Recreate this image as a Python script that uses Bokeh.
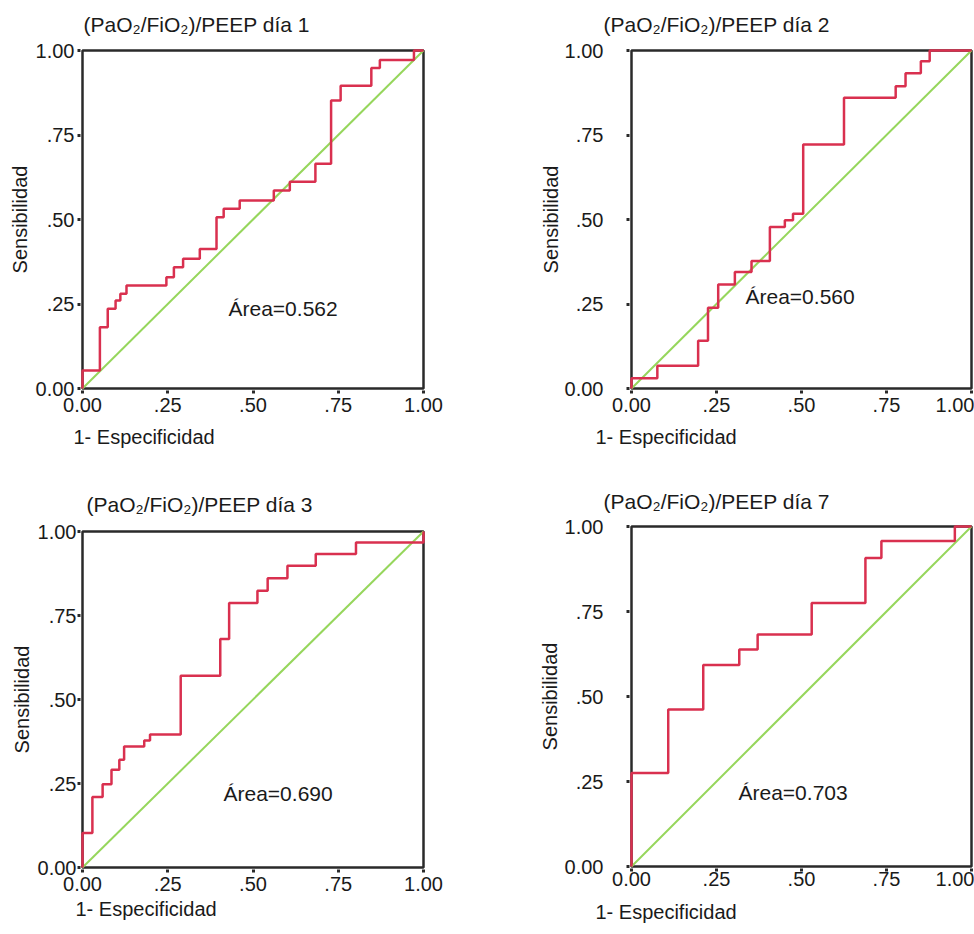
from bokeh.plotting import figure
from bokeh.layouts import column, row
from bokeh.models import Range1d, FixedTicker, Title
from bokeh.embed import file_html
from bokeh.resources import INLINE

# ---------------- data ----------------
tick_values = [0.0, 0.25, 0.5, 0.75, 1.0]
tick_labels = ["0.00", ".25", ".50", ".75", "1.00"]

titles = ["(PaO\u2082/FiO\u2082)/PEEP día 1", "(PaO\u2082/FiO\u2082)/PEEP día 2",
          "(PaO\u2082/FiO\u2082)/PEEP día 3", "(PaO\u2082/FiO\u2082)/PEEP día 7"]
areas = ["Área=0.562", "Área=0.560", "Área=0.690", "Área=0.703"]
y_label = "Sensibilidad"
x_label = "1- Especificidad"

# ROC step points (1 - specificity, sensitivity)
fpr_d1 = [0.0, 0.0, 0.051, 0.074, 0.097, 0.111, 0.129, 0.246, 0.268, 0.295, 0.344, 0.393,
          0.414, 0.461, 0.561, 0.608, 0.683, 0.729, 0.757, 0.847, 0.872, 0.972, 1.0]
tpr_d1 = [0.0, 0.053, 0.181, 0.236, 0.260, 0.280, 0.305, 0.329, 0.359, 0.384, 0.413, 0.507,
          0.532, 0.556, 0.586, 0.612, 0.665, 0.852, 0.896, 0.948, 0.972, 1.0, 1.0]

fpr_d2 = [0.0, 0.0, 0.076, 0.196, 0.225, 0.255, 0.304, 0.353, 0.407, 0.451, 0.475, 0.505,
          0.625, 0.777, 0.806, 0.851, 0.877, 1.0]
tpr_d2 = [0.0, 0.030, 0.067, 0.141, 0.239, 0.308, 0.345, 0.377, 0.478, 0.498, 0.517, 0.722,
          0.860, 0.894, 0.933, 0.968, 1.0, 1.0]

fpr_d3 = [0.0, 0.0, 0.029, 0.059, 0.085, 0.108, 0.122, 0.181, 0.198, 0.288, 0.404, 0.430,
          0.513, 0.543, 0.601, 0.684, 0.802, 1.0]
tpr_d3 = [0.0, 0.103, 0.210, 0.248, 0.291, 0.321, 0.360, 0.378, 0.396, 0.571, 0.680, 0.787,
          0.824, 0.861, 0.898, 0.933, 0.967, 1.0]

fpr_d7 = [0.0, 0.0, 0.108, 0.211, 0.317, 0.371, 0.530, 0.688, 0.735, 0.951, 1.0]
tpr_d7 = [0.0, 0.275, 0.462, 0.593, 0.638, 0.682, 0.775, 0.907, 0.957, 1.0, 1.0]

diag_x = [0.0, 1.0]
diag_y = [0.0, 1.0]

# ---------------- style ----------------
FONT = "Liberation Sans"
RED = "#d9304f"
GREEN = "#96d65c"
FRAME = "#2a2a2a"
TEXT = "#1a1a1a"

# layout per panel (local pixels)
panels = [
    dict(fpr=fpr_d1, tpr=tpr_d1, W=487, H=460, x0=82, x1=423, yt=50, yb=388,
         ystand=3, xstand=4, t_off=3, t_stand=22,
         yl_stand=4, xl_off=-7, xl_stand=18, area=(228, 308)),
    dict(fpr=fpr_d2, tpr=tpr_d2, W=487, H=460, x0=144, x1=484, yt=50, yb=388,
         ystand=23, xstand=4, t_off=-26, t_stand=22,
         yl_stand=0, xl_off=-34, xl_stand=18, area=(258, 296)),
    dict(fpr=fpr_d3, tpr=tpr_d3, W=487, H=474, x0=82, x1=423, yt=71, yb=407,
         ystand=1, xstand=4, t_off=6, t_stand=24,
         yl_stand=3, xl_off=-5, xl_stand=5, area=(223, 333)),
    dict(fpr=fpr_d7, tpr=tpr_d7, W=487, H=474, x0=144, x1=484, yt=66, yb=406,
         ystand=23, xstand=0, t_off=-26, t_stand=20,
         yl_stand=1, xl_off=-34, xl_stand=20, area=(251, 332)),
]

PAD = 2  # pixels of frame beyond the 0..1 box


def make_panel(i, cfg):
    ux = cfg["x1"] - cfg["x0"]
    uy = cfg["yb"] - cfg["yt"]
    px = PAD / ux
    py = PAD / uy

    p = figure(width=cfg["W"], height=cfg["H"], output_backend="svg", toolbar_location=None,
               x_range=Range1d(-px, 1 + px), y_range=Range1d(-py, 1 + py),
               min_border_left=cfg["x0"] - PAD,
               min_border_right=cfg["W"] - (cfg["x1"] + PAD),
               min_border_top=cfg["yt"] - PAD,
               min_border_bottom=cfg["H"] - (cfg["yb"] + PAD),
               background_fill_color="white", border_fill_color="white")
    p.outline_line_color = None
    p.grid.visible = False

    p.title.text = titles[i]
    p.title.align = "left"
    p.title.offset = cfg["t_off"]
    p.title.standoff = cfg["t_stand"]
    p.title.vertical_align = "top"
    p.title.text_font = FONT
    p.title.text_font_size = "21px"
    p.title.text_font_style = "normal"
    p.title.text_color = TEXT

    for ax, stand in ((p.xaxis[0], cfg["xstand"]), (p.yaxis[0], cfg["ystand"])):
        ax.ticker = FixedTicker(ticks=tick_values)
        ax.major_label_overrides = {v: s for v, s in zip(tick_values, tick_labels)}
        ax.axis_line_color = None
        ax.major_tick_in = 0
        ax.major_tick_out = 3
        ax.major_tick_line_width = 3
        ax.major_tick_line_color = FRAME
        ax.minor_tick_line_color = None
        ax.major_label_standoff = stand
        ax.major_label_text_font = FONT
        ax.major_label_text_font_size = "20px"
        ax.major_label_text_color = TEXT

    p.add_layout(Title(text=y_label, align="center", standoff=cfg["yl_stand"],
                       text_font=FONT, text_font_size="20px", text_font_style="normal",
                       text_color=TEXT), "left")
    p.add_layout(Title(text=x_label, align="left", offset=cfg["xl_off"],
                       standoff=cfg["xl_stand"], text_font=FONT, text_font_size="20px",
                       text_font_style="normal", text_color=TEXT), "below")

    # frame box
    p.quad(left=[0], right=[1], bottom=[0], top=[1], fill_color=None,
           line_color=FRAME, line_width=2.5)
    # reference diagonal
    p.line(diag_x, diag_y, line_color=GREEN, line_width=2)
    # ROC curve
    p.step(cfg["fpr"], cfg["tpr"], mode="after", line_color=RED, line_width=2.5)

    # area annotation (inside the frame)
    ax_, ay_ = cfg["area"]
    p.text(x=[(ax_ - cfg["x0"]) / ux], y=[(cfg["yb"] - ay_) / uy], text=[areas[i]],
           text_font_size="21px", text_color=TEXT, text_align="left",
           text_baseline="alphabetic", text_font={"value": FONT})
    return p


figs = [make_panel(i, c) for i, c in enumerate(panels)]
layout = row(column(figs[0], figs[2], spacing=0), column(figs[1], figs[3], spacing=0), spacing=0)

open("out.html", "w").write(file_html(layout, INLINE))
